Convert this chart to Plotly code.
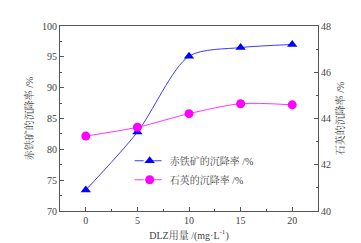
import plotly.graph_objects as go

dosage = [0, 5, 10, 15, 20]
hematite = [73.4, 82.8, 95.1, 96.5, 97.0]
quartz = [43.24, 43.62, 44.21, 44.64, 44.59]

name_h = "赤铁矿的沉降率 /%"
name_q = "石英的沉降率 /%"
font_fam = "Liberation Serif, Noto Serif CJK SC, Noto Sans CJK SC, serif"

fig = go.Figure()
fig.add_trace(go.Scatter(
    x=dosage, y=hematite, mode="lines+markers", name=name_h,
    line=dict(color="#3b3bff", width=1, shape="spline", smoothing=0.8),
    marker=dict(symbol="triangle-up", size=9, color="#0000ff"),
    showlegend=False, yaxis="y"))
fig.add_trace(go.Scatter(
    x=dosage, y=quartz, mode="lines+markers", name=name_q,
    line=dict(color="#ff33ff", width=1, shape="spline", smoothing=0.8),
    marker=dict(symbol="circle", size=9, color="#ff00ff"),
    showlegend=False, yaxis="y2"))
# legend entries (dashed line style as in the reference legend)
fig.add_trace(go.Scatter(
    x=[None], y=[None], mode="lines+markers", name=name_h,
    line=dict(color="#3b3bff", width=1, dash="dash"),
    marker=dict(symbol="triangle-up", size=9, color="#0000ff"), yaxis="y"))
fig.add_trace(go.Scatter(
    x=[None], y=[None], mode="lines+markers", name=name_q,
    line=dict(color="#ff33ff", width=1, dash="dash"),
    marker=dict(symbol="circle", size=9, color="#ff00ff"), yaxis="y2"))

axis_common = dict(
    showgrid=False, zeroline=False, showline=True, linecolor="#555",
    linewidth=1, ticks="inside", ticklen=4, tickcolor="#555",
    tickfont=dict(size=10, color="#444", family=font_fam),
)

fig.update_layout(
    width=361, height=243,
    margin=dict(l=52, r=51, t=17, b=34),
    paper_bgcolor="white", plot_bgcolor="white",
    font=dict(family=font_fam, color="#444", size=10),
    showlegend=True,
    legend=dict(x=0.27, y=0.35, xanchor="left", yanchor="top",
                bgcolor="rgba(0,0,0,0)", font=dict(size=10, color="#444"),
                itemwidth=30, tracegroupgap=0),
    xaxis=dict(range=[-2.5, 22.5], tickvals=[0, 5, 10, 15, 20],
               minor=dict(tickvals=[2.5, 7.5, 12.5, 17.5], ticks="inside",
                          ticklen=2, tickcolor="#555"),
               mirror=True,
               title=dict(text="DLZ用量 /(mg·L<sup>-1</sup>)", standoff=6,
                          font=dict(size=10, color="#444")),
               **axis_common),
    yaxis=dict(range=[70, 100], tickvals=[70, 75, 80, 85, 90, 95, 100],
               minor=dict(dtick=2.5, ticks="inside", ticklen=2, tickcolor="#555"),
               title=dict(text=name_h, standoff=6, font=dict(size=10, color="#444")),
               **axis_common),
    yaxis2=dict(range=[40, 48], tickvals=[40, 42, 44, 46, 48],
                overlaying="y", side="right",
                minor=dict(dtick=1, ticks="inside", ticklen=2, tickcolor="#555"),
                title=dict(text=name_q, standoff=6, font=dict(size=10, color="#444")),
                **axis_common),
)

fig.write_html("out.html")
